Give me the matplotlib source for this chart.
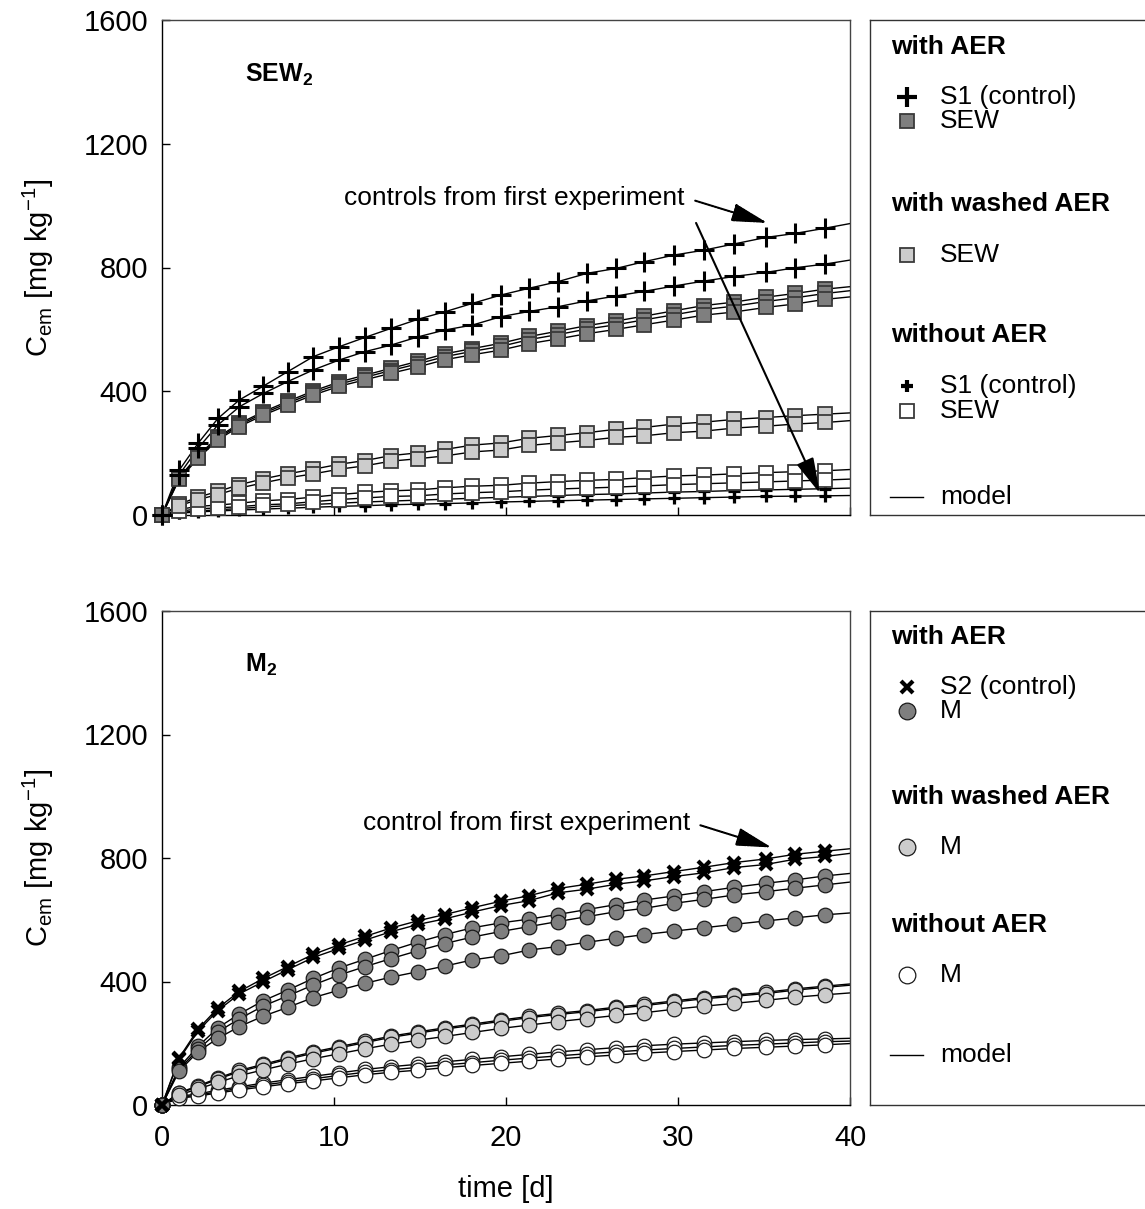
import matplotlib
matplotlib.use("Agg")
import matplotlib.pyplot as plt

plt.rcParams['font.family'] = ['Liberation Sans', 'DejaVu Sans']
plt.rcParams['mathtext.fontset'] = 'custom'
plt.rcParams['mathtext.rm'] = 'Liberation Sans'
plt.rcParams['mathtext.bf'] = 'Liberation Sans:bold'
plt.rcParams['mathtext.it'] = 'Liberation Sans:italic'

# sampling times [d]
t_days = [0, 1.0, 2.1, 3.25, 4.5, 5.9, 7.3, 8.8, 10.3, 11.8, 13.3, 14.9, 16.45,
          18.05, 19.7, 21.35, 23.0, 24.7, 26.4, 28.05, 29.75, 31.5, 33.25, 35.1,
          36.8, 38.55]
t_model_end = 40

# ---- SEW2 panel (C_em, mg/kg) ----
sew_aer_s1_a = [0, 145, 232, 312, 372, 417, 463, 512, 544, 574, 603, 633, 657,
                684, 711, 733, 754, 781, 797, 819, 840, 856, 876, 897, 910, 927]
sew_aer_s1_b = [0, 130, 216, 291, 350, 393, 431, 469, 501, 528, 549, 576, 598,
                614, 641, 658, 673, 692, 708, 723, 740, 756, 771, 784, 799, 811]
sew_aer_a = [0, 122, 192, 252, 296, 334, 367, 401, 430, 452, 474, 497, 521, 538,
             555, 577, 594, 612, 627, 643, 660, 677, 688, 704, 716, 730]
sew_aer_b = [0, 119, 188, 248, 291, 329, 361, 395, 423, 445, 467, 489, 512, 529,
             545, 567, 583, 601, 615, 631, 647, 664, 675, 690, 702, 716]
sew_aer_c = [0, 115, 183, 243, 286, 323, 355, 388, 416, 437, 458, 479, 502, 518,
             533, 554, 569, 586, 600, 615, 630, 646, 656, 671, 682, 697]
sew_wash_a = [0, 35, 58, 76, 98, 117, 133, 148, 164, 176, 192, 201, 212, 226,
              233, 248, 257, 266, 277, 283, 294, 300, 309, 315, 321, 326]
sew_wash_b = [0, 30, 50, 66, 87, 104, 120, 133, 148, 159, 174, 182, 191, 204,
              210, 225, 233, 241, 251, 256, 266, 271, 281, 287, 294, 299]
sew_none_a = [0, 18, 28, 32, 38, 46, 50, 58, 66, 73, 78, 81, 88, 93, 96, 103,
              108, 112, 115, 121, 126, 129, 133, 137, 140, 143]
sew_none_b = [0, 12, 20, 23, 27, 33, 36, 43, 50, 55, 60, 62, 68, 72, 75, 80, 84,
              87, 90, 94, 98, 101, 104, 107, 110, 113]
sew_none_s1_a = [0, 8, 13, 17, 21, 26, 30, 34, 38, 42, 45, 48, 51, 54, 57, 60,
                 63, 66, 68, 71, 74, 76, 79, 81, 83, 85]
sew_none_s1_b = [0, 6, 10, 13, 16, 19, 22, 25, 28, 30, 33, 35, 37, 39, 42, 44,
                 46, 48, 50, 52, 54, 56, 58, 60, 61, 62]
# model values at t = 40 d
sew_end = {'s1_a': 942, 's1_b': 824, 'aer_a': 738, 'aer_b': 725, 'aer_c': 705,
           'wash_a': 330, 'wash_b': 305, 'none_a': 147, 'none_b': 116,
           'ns1_a': 87, 'ns1_b': 63}

# ---- M2 panel ----
m_aer_s2_a = [0, 153, 246, 314, 368, 410, 448, 488, 519, 546, 573, 597, 617,
              639, 660, 678, 701, 715, 731, 742, 756, 770, 785, 797, 812, 822]
m_aer_s2_b = [0, 148, 240, 306, 360, 400, 438, 478, 507, 534, 561, 585, 603,
              625, 646, 662, 687, 699, 715, 726, 740, 752, 769, 779, 796, 805]
m_aer_a = [0, 122, 190, 250, 295, 338, 372, 410, 444, 472, 500, 528, 552, 574,
           590, 602, 617, 633, 649, 664, 677, 691, 705, 718, 729, 742]
m_aer_b = [0, 116, 180, 237, 279, 321, 353, 389, 421, 448, 474, 500, 523, 544,
           562, 578, 594, 610, 626, 637, 653, 666, 680, 691, 702, 713]
m_aer_c = [0, 110, 173, 216, 254, 288, 316, 348, 372, 394, 414, 432, 450, 470,
           483, 502, 513, 527, 540, 552, 563, 574, 585, 596, 606, 616]
m_wash_a = [0, 40, 62, 87, 112, 132, 152, 172, 189, 206, 223, 237, 250, 262,
            275, 287, 297, 306, 317, 326, 337, 348, 356, 365, 376, 385]
m_wash_b = [0, 38, 59, 84, 108, 128, 148, 168, 185, 202, 219, 233, 246, 258,
            271, 283, 293, 302, 313, 322, 333, 344, 352, 361, 372, 381]
m_wash_c = [0, 33, 52, 73, 95, 114, 132, 150, 166, 182, 197, 210, 222, 235,
            248, 259, 270, 280, 290, 299, 310, 320, 329, 339, 349, 357]
m_none_a = [0, 28, 36, 48, 59, 71, 82, 93, 104, 115, 124, 132, 140, 148, 156,
            164, 172, 179, 186, 192, 197, 201, 205, 209, 212, 214]
m_none_b = [0, 25, 32, 43, 54, 65, 75, 85, 96, 106, 114, 122, 130, 137, 145,
            152, 159, 166, 172, 178, 183, 188, 193, 197, 201, 205]
m_none_c = [0, 22, 29, 39, 49, 59, 69, 78, 88, 98, 106, 113, 121, 128, 135,
            142, 149, 156, 162, 168, 173, 178, 183, 187, 191, 195]
m_end = {'s2_a': 830, 's2_b': 815, 'aer_a': 750, 'aer_b': 722, 'aer_c': 622,
         'wash_a': 392, 'wash_b': 388, 'wash_c': 363, 'none_a': 216,
         'none_b': 207, 'none_c': 199}

y_ticks = [0, 400, 800, 1200, 1600]
x_ticks = [0, 10, 20, 30, 40]

# marker styles
big_plus = dict(marker='+', ms=15, mew=2.2, mec='k')
small_plus = dict(marker='+', ms=9, mew=2.3, mec='k')
sq_dark = dict(marker='s', ms=10, mfc='#7f7f7f', mec='#3a3a3a', mew=1.3)
sq_light = dict(marker='s', ms=10, mfc='#cccccc', mec='#3a3a3a', mew=1.3)
sq_white = dict(marker='s', ms=10, mfc='white', mec='#3a3a3a', mew=1.3)
cross = dict(marker='x', ms=9, mew=3, mec='k')
ci_dark = dict(marker='o', ms=10.5, mfc='#7f7f7f', mec='#1a1a1a', mew=0.9)
ci_light = dict(marker='o', ms=10.5, mfc='#cccccc', mec='#1a1a1a', mew=0.9)
ci_white = dict(marker='o', ms=10.5, mfc='white', mec='#1a1a1a', mew=0.9)

arrow_head = '-|>,head_length=1.1,head_width=0.28'

W, H = 1145, 1209
fig = plt.figure(figsize=(W / 100, H / 100), dpi=100)


def px_rect(x0, y0, x1, y1):
    return [x0 / W, 1 - y1 / H, (x1 - x0) / W, (y1 - y0) / H]


def draw_series(ax, vals, end, style, z):
    ax.plot(t_days + [t_model_end], vals + [end], color='k', lw=1.0, zorder=2)
    ax.plot(t_days, vals, ls='none', zorder=z, clip_on=False, **style)


def style_axes(ax, bottom_labels):
    ax.set_xlim(0, 40)
    ax.set_ylim(0, 1600)
    ax.set_yticks(y_ticks)
    ax.set_xticks(x_ticks)
    ax.tick_params(direction='in', length=6, width=1, labelsize=21,
                   top=False, right=False)
    ax.tick_params(axis='y', pad=10)
    ax.tick_params(axis='x', pad=14)
    if not bottom_labels:
        ax.set_xticklabels([])
    for s in ax.spines.values():
        s.set_linewidth(1.0)
    ax.spines['top'].set_color('#444444')
    ax.spines['right'].set_color('#444444')
    ax.set_ylabel(r'C$_\mathrm{em}$ [mg kg$^\mathrm{-1}$]', fontsize=21,
                  labelpad=20)


# ---------------- top panel ----------------
ax1 = fig.add_axes(px_rect(162, 20, 850, 515))
e = sew_end
draw_series(ax1, sew_none_s1_a, e['ns1_a'], small_plus, 3)
draw_series(ax1, sew_none_s1_b, e['ns1_b'], small_plus, 3)
draw_series(ax1, sew_none_a, e['none_a'], sq_white, 4)
draw_series(ax1, sew_none_b, e['none_b'], sq_white, 4)
draw_series(ax1, sew_wash_a, e['wash_a'], sq_light, 5)
draw_series(ax1, sew_wash_b, e['wash_b'], sq_light, 5)
draw_series(ax1, sew_aer_a, e['aer_a'], sq_dark, 6)
draw_series(ax1, sew_aer_b, e['aer_b'], sq_dark, 6)
draw_series(ax1, sew_aer_c, e['aer_c'], sq_dark, 6)
draw_series(ax1, sew_aer_s1_a, e['s1_a'], big_plus, 7)
draw_series(ax1, sew_aer_s1_b, e['s1_b'], big_plus, 7)
style_axes(ax1, False)
ax1.text(4.8, 1422, r'$\mathbf{SEW_2}$', fontsize=18, va='center', ha='left')
ax1.text(30.4, 1024, 'controls from first experiment', fontsize=19,
         ha='right', va='center')
ax1.annotate('', xy=(35.2, 944), xytext=(31.0, 1016),
             arrowprops=dict(arrowstyle=arrow_head, mutation_scale=20, lw=1.5,
                             ls=(0, (1, 0.6)), color='k',
                             shrinkA=0, shrinkB=0), zorder=9)
ax1.annotate('', xy=(38.25, 70), xytext=(31.05, 944),
             arrowprops=dict(arrowstyle=arrow_head, mutation_scale=20, lw=1.5,
                             color='k', shrinkA=0, shrinkB=0), zorder=9)

# ---------------- bottom panel ----------------
ax2 = fig.add_axes(px_rect(162, 611, 850, 1105))
e = m_end
draw_series(ax2, m_none_a, e['none_a'], ci_white, 3)
draw_series(ax2, m_none_b, e['none_b'], ci_white, 3)
draw_series(ax2, m_none_c, e['none_c'], ci_white, 3)
draw_series(ax2, m_wash_a, e['wash_a'], ci_light, 4)
draw_series(ax2, m_wash_b, e['wash_b'], ci_light, 4)
draw_series(ax2, m_wash_c, e['wash_c'], ci_light, 4)
draw_series(ax2, m_aer_a, e['aer_a'], ci_dark, 5)
draw_series(ax2, m_aer_b, e['aer_b'], ci_dark, 5)
draw_series(ax2, m_aer_c, e['aer_c'], ci_dark, 5)
draw_series(ax2, m_aer_s2_a, e['s2_a'], cross, 6)
draw_series(ax2, m_aer_s2_b, e['s2_b'], cross, 6)
style_axes(ax2, True)
ax2.set_xlabel('time [d]', fontsize=21, labelpad=16)
ax2.text(4.8, 1425, r'$\mathbf{M_2}$', fontsize=18, va='center', ha='left')
ax2.text(30.7, 913, 'control from first experiment', fontsize=19,
         ha='right', va='center')
ax2.annotate('', xy=(35.45, 834), xytext=(31.3, 906),
             arrowprops=dict(arrowstyle=arrow_head, mutation_scale=20, lw=1.5,
                             ls=(0, (1, 0.6)), color='k',
                             shrinkA=0, shrinkB=0), zorder=9)


# ---------------- legend boxes ----------------
def legend_box(y0, y1, rows):
    lax = fig.add_axes(px_rect(870, y0, 1160, y1))
    lax.set_xlim(870, 1160)
    lax.set_ylim(y1, y0)
    lax.set_xticks([])
    lax.set_yticks([])
    for s in lax.spines.values():
        s.set_linewidth(1.0)
        s.set_color('#333333')
    for kind, y, label, style in rows:
        if kind == 'head':
            lax.text(891, y, label, fontsize=19, fontweight='bold',
                     va='center', ha='left')
        elif kind == 'model':
            lax.plot([890, 923], [y, y], color='k', lw=1.0)
            lax.text(940, y, label, fontsize=19, va='center', ha='left')
        else:
            lax.plot([907], [y], ls='none', **style)
            lax.text(940, y, label, fontsize=19, va='center', ha='left')


legend_box(20, 515, [
    ('head', 47, 'with AER', None),
    ('item', 97, 'S1 (control)', dict(big_plus, ms=14, mew=3)),
    ('item', 121, 'SEW', dict(sq_dark, ms=10)),
    ('head', 204, 'with washed AER', None),
    ('item', 255, 'SEW', dict(sq_light, ms=10)),
    ('head', 335, 'without AER', None),
    ('item', 386, 'S1 (control)', dict(small_plus, ms=9, mew=3)),
    ('item', 411, 'SEW', dict(sq_white, ms=10)),
    ('model', 497, 'model', None),
])
legend_box(611, 1105, [
    ('head', 637, 'with AER', None),
    ('item', 687, 'S2 (control)', dict(cross, ms=9, mew=3)),
    ('item', 711, 'M', dict(ci_dark, ms=12)),
    ('head', 797, 'with washed AER', None),
    ('item', 847, 'M', dict(ci_light, ms=12)),
    ('head', 925, 'without AER', None),
    ('item', 975, 'M', dict(ci_white, ms=12)),
    ('model', 1055, 'model', None),
])

fig.savefig('out.png', dpi=100)
